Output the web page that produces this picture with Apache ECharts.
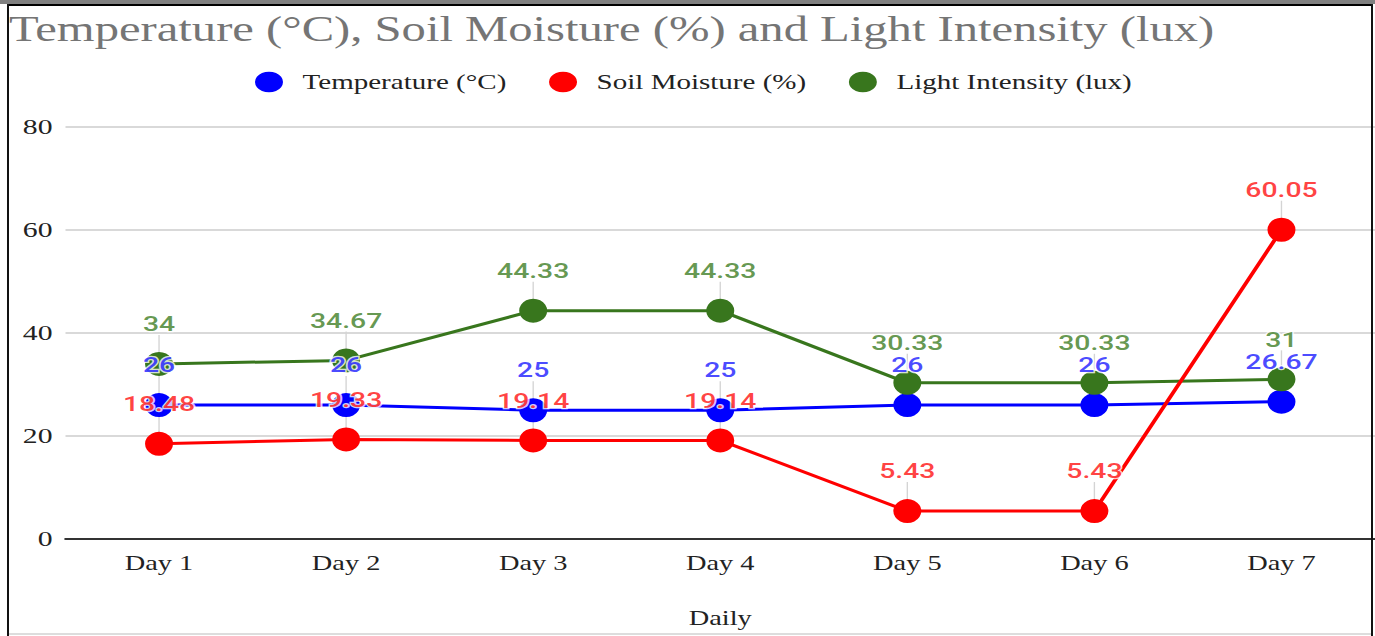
<!DOCTYPE html>
<html>
<head>
<meta charset="utf-8">
<script src="https://cdn.jsdelivr.net/npm/echarts@6/dist/echarts.min.js"></script>
<style>
  html, body { margin: 0; padding: 0; background: #ffffff; overflow: hidden; }
  #chart { width: 1018px; height: 636px; transform: scaleX(1.35069); transform-origin: 0 0; }
</style>
</head>
<body>
<div id="chart"></div>
<script>
// ---- data ----
const categories = ['Day 1', 'Day 2', 'Day 3', 'Day 4', 'Day 5', 'Day 6', 'Day 7'];
const temperature = [26, 26, 25, 25, 26, 26, 26.67];
const soilMoisture = [18.48, 19.33, 19.14, 19.14, 5.43, 5.43, 60.05];
const lightIntensity = [34, 34.67, 44.33, 44.33, 30.33, 30.33, 31];
const seriesNames = ['Temperature (°C)', 'Soil Moisture (%)', 'Light Intensity (lux)'];
const yTicks = [0, 20, 40, 60, 80];
const titleText = 'Temperature (°C), Soil Moisture (%) and Light Intensity (lux)';
const xAxisName = 'Daily';

// ---- styles ----
const S = 1375 / 1018;            // horizontal stretch applied to the container
const W = 1018;
const lineColors = ['#0000ff', '#ff0000', '#38761d'];
const labelColors = ['#1a1aff', '#ff1010', '#3d7d24'];
const serif = 'Liberation Serif';
const sans = 'Roboto';

const chart = echarts.init(document.getElementById('chart'), null, { renderer: 'svg' });

const valuesList = [temperature, soilMoisture, lightIntensity];
const lineZ = [3, 5, 4];

const lineSeries = valuesList.map((vals, i) => ({
  name: seriesNames[i],
  type: 'line',
  data: vals,
  z: lineZ[i],
  symbol: 'circle',
  symbolSize: [28 / S, 24],
  showSymbol: true,
  lineStyle: { color: lineColors[i], width: 3 },
  itemStyle: { color: lineColors[i] },
  label: { show: false },
  emphasis: { disabled: true },
  silent: true
}));

const stemSeries = valuesList.map((vals, i) => ({
  name: 'stem' + i,
  type: 'custom',
  z: 1,
  silent: true,
  data: vals.map((v, j) => [j, v]),
  renderItem: function (params, api) {
    const p = api.coord([api.value(0), api.value(1)]);
    return {
      type: 'line',
      shape: { x1: p[0], y1: p[1], x2: p[0], y2: p[1] - 29 },
      style: { stroke: '#d4d4d4', lineWidth: 1 }
    };
  }
}));

const labelSeries = valuesList.map((vals, i) => ({
  name: 'label' + i,
  type: 'scatter',
  z: 10,
  silent: true,
  data: vals,
  symbolSize: 1,
  itemStyle: { color: 'rgba(0,0,0,0)' },
  label: {
    show: true,
    position: 'top',
    distance: 29,
    color: labelColors[i],
    fontFamily: sans,
    fontWeight: 500,
    fontSize: 21,
    textBorderColor: '#ffffff',
    textBorderWidth: 2.5,
    formatter: p => String(p.value)
  },
  emphasis: { disabled: true }
}));

const frame = [
  { type: 'rect', shape: { x: 0, y: 0, width: W, height: 4 }, style: { fill: '#808080' }, z: 100 },
  { type: 'rect', shape: { x: 7 / S, y: 4, width: (1373 - 7) / S, height: 2 }, style: { fill: '#000000' }, z: 100 },
  { type: 'rect', shape: { x: 7 / S, y: 4, width: 2 / S, height: 632 }, style: { fill: '#111111' }, z: 100 },
  { type: 'rect', shape: { x: 1371 / S, y: 4, width: 2 / S, height: 632 }, style: { fill: '#111111' }, z: 100 },
  { type: 'rect', shape: { x: 9 / S, y: 633, width: (1371 - 9) / S, height: 2 }, style: { fill: '#dddddd' }, z: 100 }
];

chart.setOption({
  animation: false,
  backgroundColor: '#ffffff',
  title: {
    text: titleText,
    left: 9 / S,
    top: 11,
    padding: 0,
    textStyle: { fontFamily: serif, fontSize: 36, fontWeight: 'normal', color: '#757575' }
  },
  legend: {
    data: seriesNames,
    left: 255 / S,
    top: 71,
    padding: 0,
    icon: 'circle',
    symbolKeepAspect: false,
    itemWidth: 28 / S,
    itemHeight: 23,
    itemGap: 31.5,
    selectedMode: false,
    textStyle: { fontFamily: serif, fontSize: 21.5, color: '#222222', padding: [0, 0, 0, 9.5] }
  },
  grid: { left: 65.5 / S, right: 0, top: 127, bottom: 97, containLabel: false },
  xAxis: {
    type: 'category',
    data: categories,
    boundaryGap: true,
    name: xAxisName,
    nameLocation: 'middle',
    nameGap: 68,
    nameTextStyle: { fontFamily: serif, fontSize: 21, color: '#222222' },
    axisLine: { show: true, lineStyle: { color: '#333333', width: 2 } },
    axisTick: { show: false },
    axisLabel: { fontFamily: serif, fontSize: 21, color: '#222222', margin: 13 },
    splitLine: { show: false }
  },
  yAxis: {
    type: 'value',
    min: yTicks[0],
    max: yTicks[yTicks.length - 1],
    interval: yTicks[1] - yTicks[0],
    axisLine: { show: false },
    axisTick: { show: false },
    axisLabel: { fontFamily: serif, fontSize: 22, color: '#222222', margin: 13 / S },
    splitLine: { lineStyle: { color: '#d9d9d9', width: 2 } }
  },
  graphic: frame,
  series: [].concat(stemSeries, lineSeries, labelSeries)
});
</script>
</body>
</html>
